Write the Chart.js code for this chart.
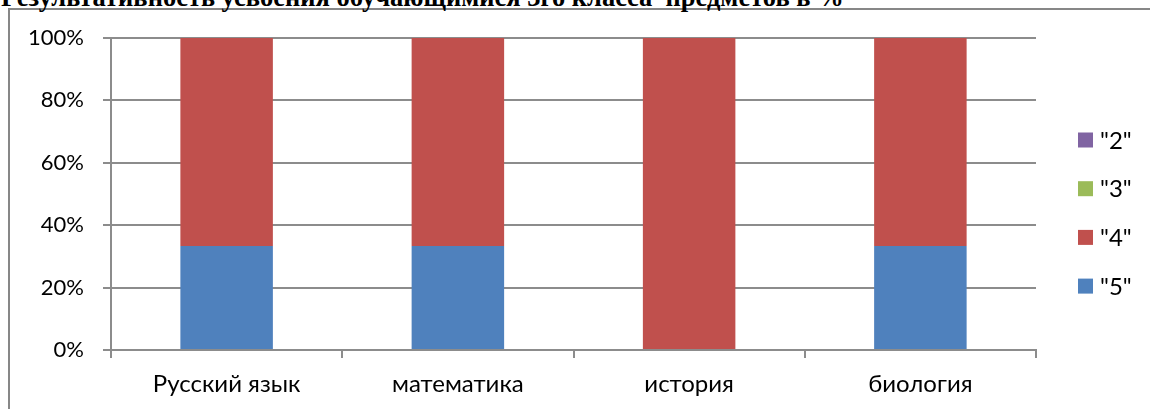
<!DOCTYPE html>
<html lang="ru">
<head>
<meta charset="utf-8">
<title>Результативность усвоения</title>
<script src="https://cdn.jsdelivr.net/npm/chart.js@4/dist/chart.umd.min.js"></script>
<style>
  html, body {
    margin: 0;
    padding: 0;
    background: #ffffff;
    overflow: hidden;
  }
  .page {
    position: relative;
    width: 1150px;
    height: 409px;
    overflow: hidden;
  }
  .frame {
    position: absolute;
    left: 8px;
    top: 8px;
    width: 1200px;
    height: 460px;
    border: 2px solid #878787;
  }
  .heading {
    position: absolute;
    left: 1px;
    top: -16px;
    font-family: "Liberation Serif", "Times New Roman", serif;
    font-weight: bold;
    font-size: 26.5px;
    line-height: 26px;
    white-space: pre;
    color: #000000;
  }
  canvas {
    position: absolute;
    left: 0;
    top: 0;
  }
</style>
</head>
<body>
<div class="page">
  <div class="frame"></div>
  <div class="heading">Результативность усвоения обучающимися 3го класса  предметов в %</div>
  <canvas id="chart" width="1150" height="409"></canvas>
</div>
<script>
const categories = ["Русский язык", "математика", "история", "биология"];
const grade5 = [33.3, 33.3, 0, 33.3];
const grade4 = [66.7, 66.7, 100, 66.7];
const grade3 = [0, 0, 0, 0];
const grade2 = [0, 0, 0, 0];
const yTicks = [0, 20, 40, 60, 80, 100];

const numberFont = { family: "Lato, 'Open Sans', sans-serif", size: 22 };
const wordFont = { family: "Lato, 'Open Sans', sans-serif", size: 24 };
const axisGray = "#8c8c8c";

// legend drawn at the right, top-to-bottom in reverse series order
const sideLegend = {
  id: "sideLegend",
  afterDraw(chart) {
    const ctx = chart.ctx;
    const sets = chart.data.datasets.slice().reverse();
    const x = 1078;
    const top = 140;
    const step = 48.7;
    const box = 15;
    ctx.save();
    ctx.font = `${wordFont.size}px ${wordFont.family}`;
    ctx.textBaseline = "middle";
    sets.forEach((ds, i) => {
      const cy = top + i * step;
      ctx.fillStyle = ds.backgroundColor;
      ctx.fillRect(x, cy - box / 2, box, box);
      ctx.fillStyle = "#000";
      ctx.fillText(ds.label, x + 22, cy + 1);
    });
    ctx.restore();
  }
};

new Chart(document.getElementById("chart"), {
  type: "bar",
  data: {
    labels: categories,
    datasets: [
      { label: '"5"', data: grade5, backgroundColor: "#4F81BD" },
      { label: '"4"', data: grade4, backgroundColor: "#C0504D" },
      { label: '"3"', data: grade3, backgroundColor: "#9BBB59" },
      { label: '"2"', data: grade2, backgroundColor: "#8064A2" }
    ]
  },
  options: {
    responsive: false,
    animation: false,
    devicePixelRatio: 1,
    layout: {
      padding: { left: 0, top: 38, right: 114, bottom: 0 }
    },
    datasets: {
      bar: {
        categoryPercentage: 1,
        barPercentage: 0.4,
        borderWidth: 0
      }
    },
    scales: {
      x: {
        stacked: true,
        afterFit: (scale) => { scale.height = 59; },
        border: { display: true, color: axisGray, width: 2 },
        grid: {
          offset: true,
          drawOnChartArea: false,
          drawTicks: true,
          tickLength: 8,
          color: axisGray,
          lineWidth: 2
        },
        ticks: {
          color: "#000",
          font: wordFont,
          padding: 12,
          maxRotation: 0
        }
      },
      y: {
        stacked: true,
        min: 0,
        max: 100,
        afterFit: (scale) => { scale.width = 111; },
        afterBuildTicks: (scale) => {
          scale.ticks = yTicks.map((v) => ({ value: v }));
        },
        border: { display: true, color: axisGray, width: 2 },
        grid: {
          color: axisGray,
          lineWidth: 2,
          drawTicks: true,
          tickLength: 8
        },
        ticks: {
          color: "#000",
          font: numberFont,
          padding: 19,
          callback: (v) => v + "%"
        }
      }
    },
    plugins: {
      legend: { display: false },
      tooltip: { enabled: false },
      title: { display: false }
    }
  },
  plugins: [sideLegend]
});
</script>
</body>
</html>
